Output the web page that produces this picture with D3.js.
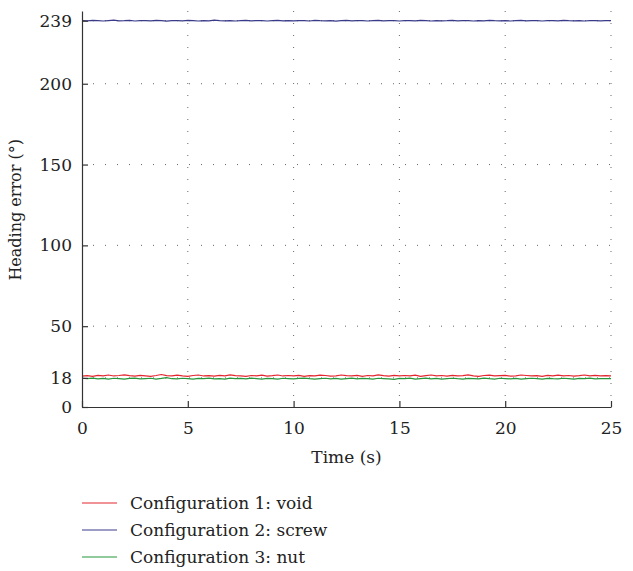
<!DOCTYPE html>
<html>
<head>
<meta charset="utf-8">
<script src="https://cdn.jsdelivr.net/npm/d3@7"></script>
<style>
  body { margin: 0; background: #fff; }
  svg, svg text { font-family: "DejaVu Serif", "Liberation Serif", "Times New Roman", Times, serif !important; fill: #222; }
</style>
</head>
<body>
<div id="wrapper"></div>
<script>
const timeStep = 0.25
const xTicks = [0, 5, 10, 15, 20, 25]
const yTicks = [0, 18, 50, 100, 150, 200, 239]
const seriesNames = ["Configuration 1: void", "Configuration 2: screw", "Configuration 3: nut"]
const seriesColors = ["#e3262f", "#3a3a8a", "#25963a"]

const voidErr = [
  19.1,19.4,19.0,19.6,19.3,19.8,19.2,19.5,19.9,19.4,
  19.1,19.6,19.3,19.0,19.5,20.1,19.4,19.2,19.7,19.3,
  19.0,19.5,19.8,19.2,19.4,19.1,19.6,19.3,19.9,19.4,
  19.2,19.0,19.5,19.3,19.7,19.1,19.4,19.8,19.2,19.5,
  19.3,19.6,19.0,19.4,19.2,19.7,19.5,19.1,19.3,19.8,
  19.4,19.2,19.6,19.0,19.5,19.3,19.9,19.4,19.1,19.6,
  19.2,19.5,19.3,19.7,19.0,19.4,19.8,19.3,19.5,19.1,
  19.6,19.2,19.4,19.9,19.3,19.0,19.5,19.7,19.2,19.4,
  19.6,19.1,19.3,19.8,19.5,19.2,19.4,19.0,19.6,19.3,
  19.7,19.2,19.5,19.1,19.4,19.8,19.3,19.6,19.2,19.4,
  19.3
]
const screwErr = [
  239.1,238.9,239.2,239.0,238.8,239.1,239.3,238.9,239.0,239.2,
  238.8,239.0,239.1,238.9,239.2,239.0,238.7,239.1,239.0,238.9,
  239.2,239.0,238.8,239.1,238.9,239.3,239.0,238.9,239.1,238.8,
  239.0,239.2,238.9,239.1,239.0,238.8,239.1,239.2,238.9,239.0,
  238.9,239.1,239.0,238.8,239.2,239.0,238.9,239.1,238.7,239.0,
  239.2,238.9,239.0,239.1,238.8,239.0,239.2,238.9,239.1,239.0,
  238.8,239.1,239.0,238.9,239.2,239.0,238.8,239.1,238.9,239.0,
  239.2,238.9,239.1,239.0,238.8,239.1,238.9,239.2,239.0,238.9,
  239.1,238.8,239.0,239.2,238.9,239.0,239.1,238.8,239.0,239.1,
  238.9,239.2,239.0,238.9,239.1,238.8,239.0,239.1,238.9,239.0,
  239.0
]
const nutErr = [
  17.8,17.5,17.9,17.4,17.7,17.3,17.8,17.6,17.2,17.7,
  17.9,17.4,17.6,17.8,17.3,17.7,18.2,17.5,17.4,17.8,
  17.6,17.2,17.7,17.5,17.9,17.4,17.6,17.3,17.8,17.5,
  17.7,17.4,17.9,17.6,17.2,17.7,17.5,17.3,17.8,17.6,
  17.4,17.7,17.9,17.5,17.3,17.6,17.8,17.4,17.7,17.2,
  17.6,17.9,17.4,17.7,17.5,17.3,17.8,17.6,17.4,17.1,
  17.7,17.5,17.8,17.3,17.6,17.9,17.4,17.7,17.2,17.6,
  17.8,17.5,17.3,17.7,17.6,17.4,17.9,17.5,17.3,17.8,
  17.6,17.4,17.7,17.2,17.5,17.8,17.6,17.3,17.7,17.5,
  17.4,17.8,17.6,17.3,17.7,17.5,17.9,17.4,17.6,17.5,
  17.6
]

const allSeries = [voidErr, screwErr, nutErr]

let dimensions = {
  width: 633,
  height: 571,
  margin: { top: 11, right: 22, bottom: 164, left: 82 },
}
dimensions.boundedWidth = dimensions.width - dimensions.margin.left - dimensions.margin.right
dimensions.boundedHeight = dimensions.height - dimensions.margin.top - dimensions.margin.bottom

const wrapper = d3.select("#wrapper")
  .append("svg")
  .attr("width", dimensions.width)
  .attr("height", dimensions.height)

const bounds = wrapper.append("g")
  .attr("transform", `translate(${dimensions.margin.left},${dimensions.margin.top})`)

const xScale = d3.scaleLinear()
  .domain([0, 25])
  .range([0, dimensions.boundedWidth])

const yScale = d3.scaleLinear()
  .domain([0, 245])
  .range([dimensions.boundedHeight, 0])

// dotted grid
bounds.append("g")
  .selectAll("line")
  .data(xTicks.filter(d => d > 0))
  .join("line")
    .attr("x1", d => xScale(d)).attr("x2", d => xScale(d))
    .attr("y1", 0).attr("y2", dimensions.boundedHeight)
    .attr("stroke", "#666")
    .attr("stroke-width", 1)
    .attr("stroke-dasharray", "1,11")

bounds.append("g")
  .selectAll("line")
  .data(yTicks.filter(d => d > 0))
  .join("line")
    .attr("x1", 0).attr("x2", dimensions.boundedWidth)
    .attr("y1", d => yScale(d)).attr("y2", d => yScale(d))
    .attr("stroke", "#666")
    .attr("stroke-width", 1)
    .attr("stroke-dasharray", "1,11")
    .attr("stroke-dashoffset", -11)

// lines
const lineGen = d3.line()
  .x((d, i) => xScale(i * timeStep))
  .y(d => yScale(d))

bounds.selectAll(".series")
  .data(allSeries)
  .join("path")
    .attr("class", "series")
    .attr("d", d => lineGen(d))
    .attr("fill", "none")
    .attr("stroke", (d, i) => seriesColors[i])
    .attr("stroke-width", 1.2)

// axes, ticks pointing inward
const xAxisGenerator = d3.axisBottom(xScale)
  .tickValues(xTicks)
  .tickSizeInner(-6)
  .tickSizeOuter(0)
  .tickPadding(15)

const xAxis = bounds.append("g")
  .attr("transform", `translate(0,${dimensions.boundedHeight})`)
  .call(xAxisGenerator)

const yAxisGenerator = d3.axisLeft(yScale)
  .tickValues(yTicks)
  .tickSizeInner(-6)
  .tickSizeOuter(0)
  .tickPadding(10)

const yAxis = bounds.append("g")
  .call(yAxisGenerator)

bounds.selectAll(".domain, .tick line")
  .attr("stroke", "#333")
  .attr("stroke-width", 1.2)
bounds.selectAll(".tick text")
  .style("font-size", "17px")
  .attr("fill", "#222")

xAxis.append("text")
  .attr("x", dimensions.boundedWidth / 2)
  .attr("y", 56)
  .attr("text-anchor", "middle")
  .style("font-size", "17px")
  .attr("fill", "#222")
  .text("Time (s)")

yAxis.append("text")
  .attr("transform", "rotate(-90)")
  .attr("x", -(yScale(122)))
  .attr("y", -61)
  .attr("text-anchor", "middle")
  .style("font-size", "16px")
  .attr("fill", "#222")
  .text("Heading error (°)")

// legend
const legend = wrapper.append("g")
  .attr("transform", "translate(82,503)")

const legendRows = legend.selectAll("g")
  .data(seriesNames)
  .join("g")
    .attr("transform", (d, i) => `translate(0,${i * 27})`)

legendRows.append("line")
  .attr("x1", 0).attr("x2", 35)
  .attr("y1", 0).attr("y2", 0)
  .attr("stroke", (d, i) => seriesColors[i])
  .attr("stroke-width", 1.2)

legendRows.append("text")
  .attr("x", 48)
  .attr("y", 0)
  .attr("dy", "0.35em")
  .style("font-size", "17px")
  .text(d => d)
</script>
</body>
</html>
